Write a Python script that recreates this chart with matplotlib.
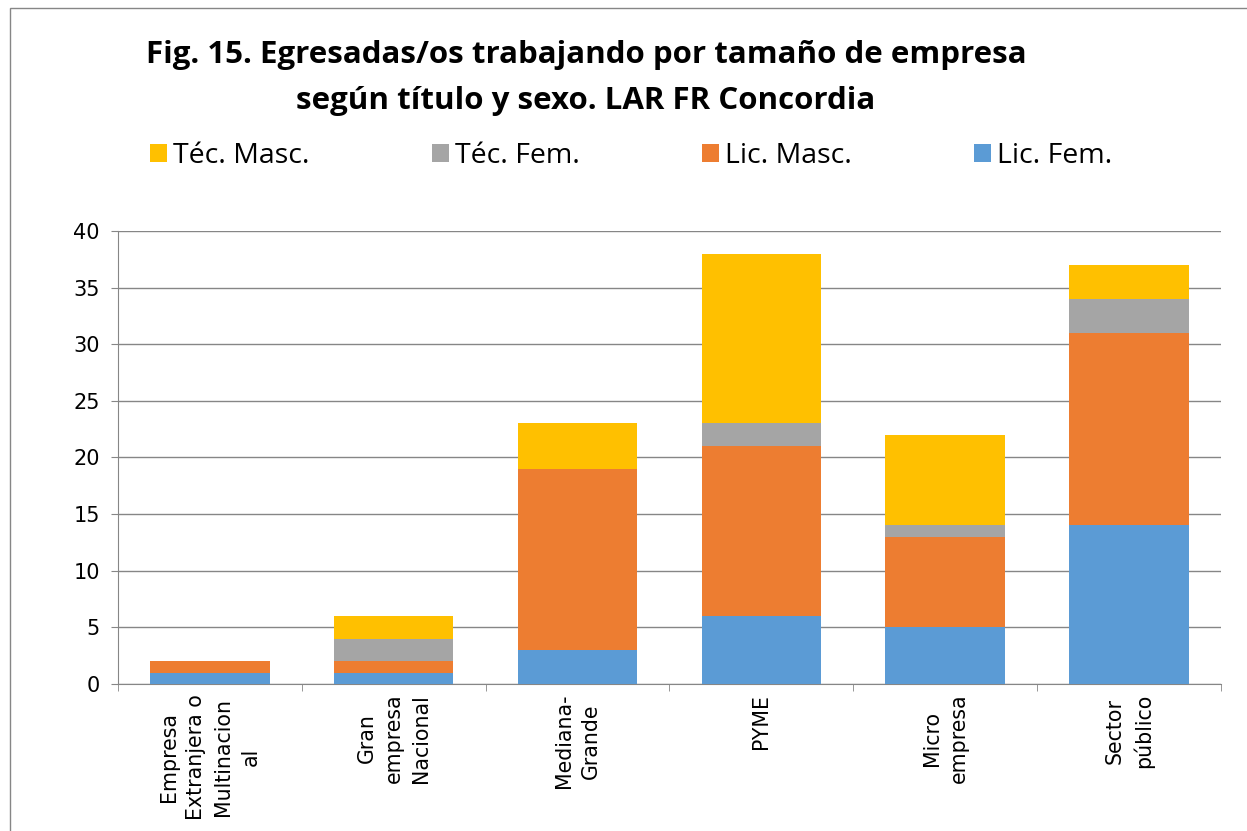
import matplotlib.pyplot as plt
import numpy as np
from matplotlib.patches import Rectangle

# data
categories = [
    "Empresa\nExtranjera o\nMultinacion\nal",
    "Gran\nempresa\nNacional",
    "Mediana-\nGrande",
    "PYME",
    "Micro\nempresa",
    "Sector\npúblico",
]
lic_fem = [1, 1, 3, 6, 5, 14]
lic_masc = [1, 1, 16, 15, 8, 17]
tec_fem = [0, 2, 0, 2, 1, 3]
tec_masc = [0, 2, 4, 15, 8, 3]

series = [
    ("Lic. Fem.", lic_fem, "#5b9bd5"),
    ("Lic. Masc.", lic_masc, "#ed7d31"),
    ("Téc. Fem.", tec_fem, "#a5a5a5"),
    ("Téc. Masc.", tec_masc, "#ffc000"),
]

title_font = ["Open Sans", "DejaVu Sans"]

fig = plt.figure(figsize=(12.47, 8.31), dpi=100)
ax = fig.add_axes([0.0946, 0.177, 0.8845, 0.545])

x = np.arange(len(categories))
bottom = np.zeros(len(categories))
handles = {}
for name, vals, color in series:
    h = ax.bar(x, vals, width=0.65, bottom=bottom, color=color, label=name, zorder=3)
    handles[name] = h
    bottom += np.array(vals)

ax.set_xlim(-0.5, len(categories) - 0.5)
ax.set_ylim(0, 40)
ax.set_yticks(range(0, 41, 5))
ax.yaxis.grid(True, color="#868686", linewidth=1, zorder=0)
ax.tick_params(axis="y", labelsize=15, length=5, color="#868686", pad=8)

ax.set_xticks(x)
ax.set_xticklabels(categories, rotation=90, fontsize=14.8, va="top", ha="center",
                   linespacing=1.45, family="DejaVu Sans")
ax.set_xticks(np.arange(-0.5, len(categories), 1), minor=True)
ax.tick_params(axis="x", which="major", length=0, pad=7)
ax.tick_params(axis="x", which="minor", length=5, color="#868686")

for s in ["top", "right"]:
    ax.spines[s].set_visible(False)
for s in ["left", "bottom"]:
    ax.spines[s].set_color("#868686")

fig.text(0.47, 0.934, "Fig. 15. Egresadas/os trabajando por tamaño de empresa",
         ha="center", va="center", fontsize=22.5, fontweight="bold", family=title_font)
fig.text(0.47, 0.879, "según título y sexo. LAR FR Concordia",
         ha="center", va="center", fontsize=22.5, fontweight="bold", family=title_font)

order = ["Téc. Masc.", "Téc. Fem.", "Lic. Masc.", "Lic. Fem."]
leg = fig.legend([handles[k] for k in order], order, loc="center left",
                 bbox_to_anchor=(0.1, 0.812), ncol=4, frameon=False,
                 prop={"family": title_font, "size": 20.5},
                 handlelength=0.6, handleheight=0.6, handletextpad=0.2,
                 columnspacing=4.3)

fig.patches.append(Rectangle((0.008, -0.1), 1.2, 1.09, transform=fig.transFigure,
                             fill=False, edgecolor="#868686", linewidth=1))

fig.savefig("out.png", dpi=100)
